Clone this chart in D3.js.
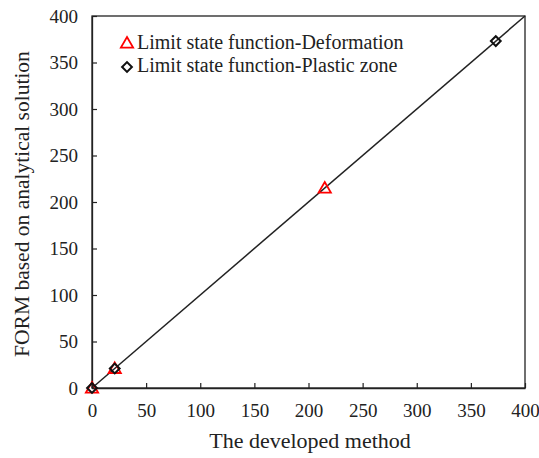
<!DOCTYPE html>
<html><head><meta charset="utf-8">
<script src="https://cdn.jsdelivr.net/npm/d3@7"></script>
<style>body{margin:0;background:#fff}svg{display:block}</style>
</head><body>
<script>
const xTicks = [0,50,100,150,200,250,300,350,400];
const yTicks = [0,50,100,150,200,250,300,350,400];
const deformX = [0, 21, 215];
const deformY = [0, 21, 215];
const plasticX = [0, 21, 373];
const plasticY = [0, 21, 373];
const lineX = [0, 400];
const lineY = [0, 400];
const legendLabels = ["Limit state function-Deformation", "Limit state function-Plastic zone"];

const FONT = "'Liberation Serif', 'Times New Roman', 'DejaVu Serif', Times, serif";
const W = 539, H = 458;
const m = {l:92, r:14, t:16, b:70};
const svg = d3.select("body").append("svg").attr("width", W).attr("height", H)
  .style("font-family", FONT);
const x = d3.scaleLinear().domain([0,400]).range([m.l, W - m.r]);
const y = d3.scaleLinear().domain([0,400]).range([H - m.b, m.t]);

svg.append("rect").attr("x", x(0)).attr("y", y(400)).attr("width", x(400)-x(0)).attr("height", y(0)-y(400))
  .attr("fill","none").attr("stroke","#222").attr("stroke-width",1.3);

const xa = svg.append("g").attr("transform",`translate(0,${y(0)})`)
  .call(d3.axisBottom(x).tickValues(xTicks).tickSizeInner(-5).tickSizeOuter(0).tickPadding(16));
const ya = svg.append("g").attr("transform",`translate(${x(0)},0)`)
  .call(d3.axisLeft(y).tickValues(yTicks).tickSizeInner(-5).tickSizeOuter(0).tickPadding(14));
[xa, ya].forEach(g => {
  g.attr("font-family", null).style("font-family", FONT);
  g.select(".domain").attr("stroke","#222").attr("stroke-width",1.3);
  g.selectAll(".tick line").attr("stroke","#222").attr("stroke-width",1.2);
  g.selectAll(".tick text").attr("font-size",19).attr("fill","#222").style("font-family", FONT);
});

const lineData = lineX.map((v,i)=>[v, lineY[i]]);
svg.append("path").datum(lineData)
  .attr("d", d3.line().x(d=>x(d[0])).y(d=>y(d[1])))
  .attr("stroke","#222").attr("stroke-width",1.5).attr("fill","none");

const tri = d3.symbol().type(d3.symbolTriangle).size(65);
const dia = d3.symbol().type(d3.symbolSquare).size(48);

svg.append("g").selectAll("path").data(deformX.map((v,i)=>[v, deformY[i]])).join("path")
  .attr("d", tri).attr("transform", d=>`translate(${x(d[0])},${y(d[1])+1})`)
  .attr("fill","none").attr("stroke","#f00").attr("stroke-width",1.8);
svg.append("g").selectAll("path").data(plasticX.map((v,i)=>[v, plasticY[i]])).join("path")
  .attr("d", dia).attr("transform", d=>`translate(${x(d[0])},${y(d[1])}) rotate(45)`)
  .attr("fill","none").attr("stroke","#111").attr("stroke-width",2);

const lg = svg.append("g");
lg.append("path").attr("d", tri).attr("transform","translate(127,44)")
  .attr("fill","none").attr("stroke","#f00").attr("stroke-width",1.8);
lg.append("path").attr("d", dia).attr("transform","translate(127,67) rotate(45)")
  .attr("fill","none").attr("stroke","#111").attr("stroke-width",2);
lg.selectAll("text").data(legendLabels).join("text")
  .attr("x",137).attr("y",(d,i)=>49 + i*23).attr("font-size",20).attr("fill","#222").text(d=>d);

svg.append("text").attr("x", 310).attr("y", 448).attr("text-anchor","middle")
  .attr("font-size",22).attr("fill","#222").text("The developed method");
svg.append("text").attr("transform",`translate(29,204) rotate(-90)`).attr("text-anchor","middle")
  .attr("font-size",21.5).attr("fill","#222").text("FORM based on analytical solution");
</script>
</body></html>
